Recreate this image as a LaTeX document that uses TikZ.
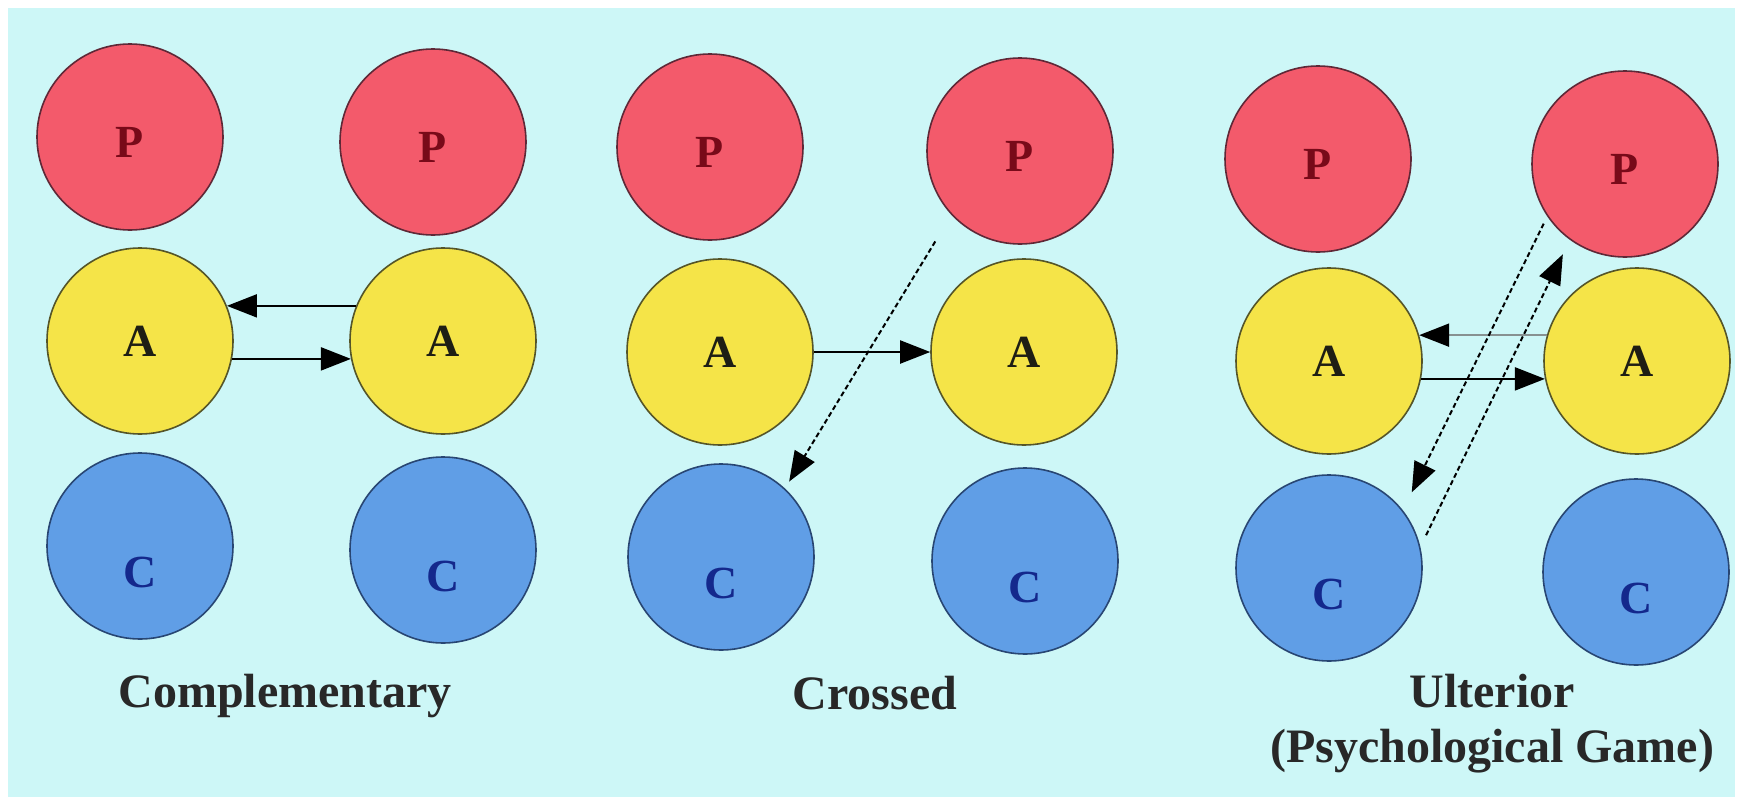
\documentclass[tikz,border=0pt]{standalone}
\usepackage{fontspec}
\setmainfont{Liberation Serif}
\usepackage{xcolor}
\usetikzlibrary{arrows.meta}

\definecolor{bgcyan}{RGB}{205,247,247}
\definecolor{pfill}{RGB}{243,90,107}
\definecolor{pline}{RGB}{95,40,55}
\definecolor{ptext}{RGB}{120,10,25}
\definecolor{afill}{RGB}{245,228,72}
\definecolor{aline}{RGB}{85,85,40}
\definecolor{atext}{RGB}{30,30,20}
\definecolor{cfill}{RGB}{96,158,230}
\definecolor{cline}{RGB}{40,70,115}
\definecolor{ctext}{RGB}{20,40,140}
\definecolor{lbltext}{RGB}{40,40,40}
\definecolor{lgray}{RGB}{135,145,145}

\begin{document}
\begin{tikzpicture}[
  x=1pt, y=-1pt,
  ego/.style={circle, draw, line width=1.6pt, minimum size=186pt, inner sep=0pt,
    font=\fontsize{46}{46}\selectfont\bfseries},
  par/.style={ego, fill=pfill, draw=pline, text=ptext, text height=41pt},
  adu/.style={ego, fill=afill, draw=aline, text=atext},
  chi/.style={ego, fill=cfill, draw=cline, text=ctext, text height=84pt},
  arr/.style={-{Triangle[length=30pt,width=23pt]}, line width=2pt},
  garr/.style={arr, draw=lgray, -{Triangle[length=30pt,width=23pt,color=black]}},
  darr/.style={arr, dash pattern=on 5pt off 3pt},
  lbl/.style={font=\fontsize{48}{55}\selectfont\bfseries, text=lbltext, align=center}]
\useasboundingbox (0,0) rectangle (1741,803);
\fill[bgcyan] (8,8) rectangle (1735,797);

% complementary
\node[par] (p1) at (130,137) {P};
\node[adu] (a1) at (140,341) {A};
\node[chi] (c1) at (140,546) {C};
\node[par] (p2) at (433,142) {P};
\node[adu] (a2) at (443,341) {A};
\node[chi] (c2) at (443,550) {C};
\draw[arr] (a2.158) -- (a1.22);
\draw[arr] (a1.-11) -- (a2.191);
\node[lbl, anchor=base] (t1) at (285,707) {Complementary};

% crossed
\node[par] (p3) at (710,147) {P};
\node[adu] (a3) at (720,352) {A};
\node[chi] (c3) at (721,557) {C};
\node[par] (p4) at (1020,151) {P};
\node[adu] (a4) at (1024,352) {A};
\node[chi] (c4) at (1025,561) {C};
\draw[arr] (a3) -- (a4);
\draw[darr, shorten <=31pt, shorten >=8pt] (p4.223) -- (c3.47);
\node[lbl, anchor=base] (t2) at (875,709) {Crossed};

% ulterior
\node[par] (p5) at (1318,159) {P};
\node[adu] (a5) at (1329,361) {A};
\node[chi] (c5) at (1329,568) {C};
\node[par] (p6) at (1625,164) {P};
\node[adu] (a6) at (1637,361) {A};
\node[chi] (c6) at (1636,572) {C};
\draw[garr] (a6.164) -- (a5.16);
\draw[arr] (a5.-11) -- (a6.191);
\draw[darr, shorten <=8pt, shorten >=20pt] (p6.214) -- (c5.38);
\draw[darr, shorten <=13pt, shorten >=16pt] (c5.13) -- (p6.234);
\node[lbl, anchor=base] (t3) at (1492,762) {Ulterior\\(Psychological Game)};
\end{tikzpicture}
\end{document}
